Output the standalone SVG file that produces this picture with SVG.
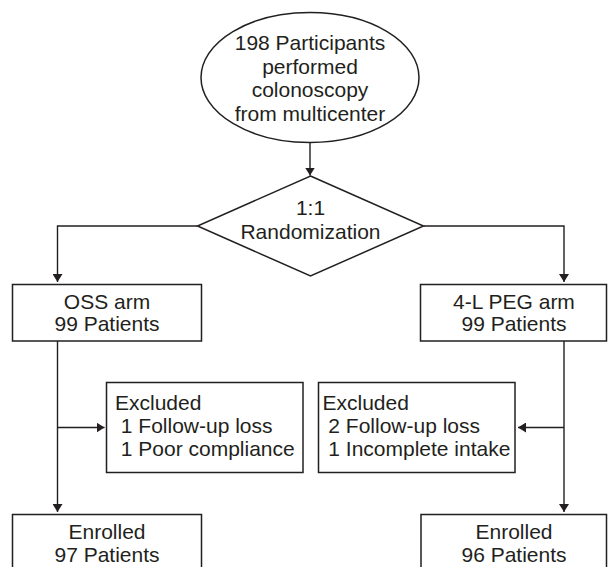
<svg xmlns="http://www.w3.org/2000/svg" width="608" height="567" viewBox="0 0 608 567">
<style>
.shape{fill:#ffffff;stroke:#231f20;stroke-width:1.5}
.conn{fill:none;stroke:#231f20;stroke-width:1.4}
text{font-family:"Liberation Sans",Arial,Helvetica,sans-serif;font-size:21px;fill:#231f20}
.c{text-anchor:middle}
</style>
<defs>
<marker id="arr" viewBox="0 0 8 10" refX="8" refY="5" markerWidth="8" markerHeight="10" markerUnits="userSpaceOnUse" orient="auto">
<path d="M0,0 L8,5 L0,10 z" fill="#231f20"/>
</marker>
</defs>
<rect width="608" height="567" fill="#ffffff"/>
<g id="connectors">
<path class="conn" d="M310,143 V175.5" marker-end="url(#arr)"/>
<path class="conn" d="M197.5,226 H57.5 V282" marker-end="url(#arr)"/>
<path class="conn" d="M423.5,226 H564 V282" marker-end="url(#arr)"/>
<path class="conn" d="M57.5,341 V512" marker-end="url(#arr)"/>
<path class="conn" d="M564,341 V512" marker-end="url(#arr)"/>
<path class="conn" d="M57.5,427.5 H104.5" marker-end="url(#arr)"/>
<path class="conn" d="M564,427.5 H518" marker-end="url(#arr)"/>
</g>
<g id="start">
<ellipse class="shape" cx="310" cy="77.5" rx="109" ry="65"/>
<text class="c" x="310" y="50">198 Participants</text>
<text class="c" x="310" y="73.5">performed</text>
<text class="c" x="310" y="97">colonoscopy</text>
<text class="c" x="310" y="120.5">from multicenter</text>
</g>
<g id="randomization">
<polygon class="shape" points="310.5,176 423.5,226 310.5,276 197.5,226"/>
<text class="c" x="310.5" y="214.5">1:1</text>
<text class="c" x="310.5" y="238.5">Randomization</text>
</g>
<g id="oss-arm">
<rect class="shape" x="12.5" y="284.5" width="189" height="56.5"/>
<text class="c" x="107" y="308.5">OSS arm</text>
<text class="c" x="107" y="331">99 Patients</text>
</g>
<g id="peg-arm">
<rect class="shape" x="420.5" y="284.5" width="186" height="56.5"/>
<text class="c" x="514" y="308.5">4-L PEG arm</text>
<text class="c" x="514" y="331">99 Patients</text>
</g>
<g id="oss-excluded">
<rect class="shape" x="106.5" y="382.5" width="196.5" height="90"/>
<text x="115" y="409.5">Excluded</text>
<text x="120.8" y="432.5">1 Follow-up loss</text>
<text x="120.8" y="455.5">1 Poor compliance</text>
</g>
<g id="peg-excluded">
<rect class="shape" x="318.5" y="382.5" width="196.5" height="90"/>
<text x="322.5" y="409.5">Excluded</text>
<text x="328.3" y="432.5">2 Follow-up loss</text>
<text x="328.3" y="455.5">1 Incomplete intake</text>
</g>
<g id="oss-enrolled">
<rect class="shape" x="12.5" y="514.5" width="189" height="60"/>
<text class="c" x="107" y="538.5">Enrolled</text>
<text class="c" x="107" y="561.5">97 Patients</text>
</g>
<g id="peg-enrolled">
<rect class="shape" x="421" y="514.5" width="185.5" height="60"/>
<text class="c" x="514" y="538.5">Enrolled</text>
<text class="c" x="514" y="561.5">96 Patients</text>
</g>
</svg>
